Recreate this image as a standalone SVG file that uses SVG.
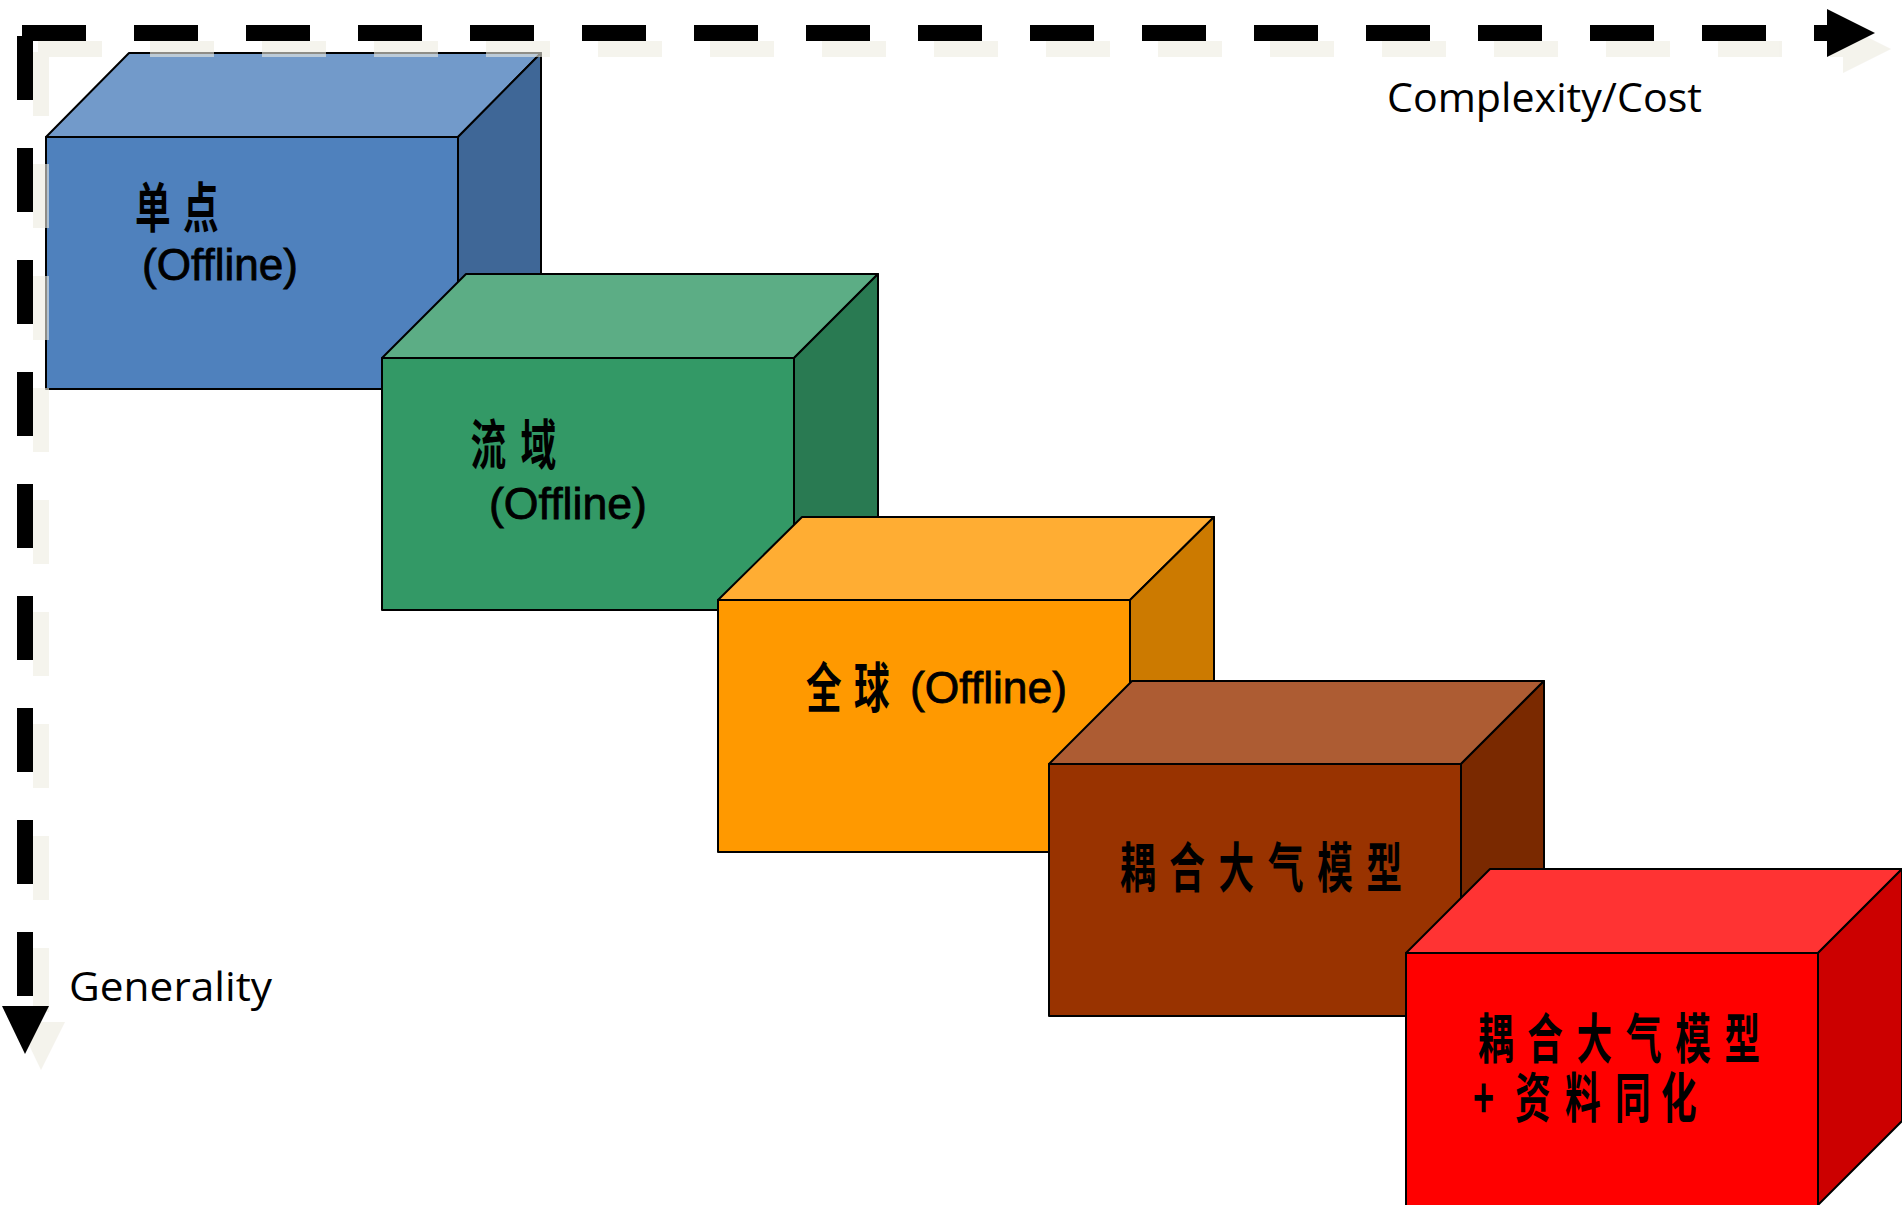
<svg xmlns="http://www.w3.org/2000/svg" width="1902" height="1205" viewBox="0 0 1902 1205">
  <style>
    .edge { stroke: #000; stroke-width: 2; stroke-linejoin: round; }
    .cjk { font-family: "Noto Sans CJK SC", "Noto Sans CJK TC", sans-serif; font-weight: 700; font-size: 54px; fill: #000; }
    .lat { font-family: "Liberation Sans", Arial, sans-serif; font-size: 45px; fill: #000; stroke: #000; stroke-width: 0.8; }
    .axis-label { font-family: "Open Sans", "Noto Sans", sans-serif; font-size: 40px; fill: #000; }
    .dash { fill: none; stroke-width: 16; stroke-dasharray: 64 48; }
  </style>
  <rect x="0" y="0" width="1902" height="1205" fill="#ffffff"/>

  <g id="box-single-point">
    <polygon class="edge" fill="#729aca" points="46,137 129,53 541,53 458,137"/>
    <polygon class="edge" fill="#3f6797" points="458,137 541,53 541,305 458,389"/>
    <rect class="edge" fill="#4f81bd" x="46" y="137" width="412" height="252"/>
    <text class="cjk" transform="translate(135,228) scale(0.66 1)" x="0 72.7">单点</text>
    <text class="lat" x="142" y="280" textLength="156" lengthAdjust="spacingAndGlyphs">(Offline)</text>
  </g>

  <g id="box-basin">
    <polygon class="edge" fill="#5cad85" points="382,358 466,274 878,274 794,358"/>
    <polygon class="edge" fill="#297a52" points="794,358 878,274 878,526 794,610"/>
    <rect class="edge" fill="#339966" x="382" y="358" width="412" height="252"/>
    <text class="cjk" transform="translate(470.5,465) scale(0.66 1)" x="0 75.8">流域</text>
    <text class="lat" x="489" y="519" textLength="158" lengthAdjust="spacingAndGlyphs">(Offline)</text>
  </g>

  <g id="box-global">
    <polygon class="edge" fill="#ffad33" points="718,600 802,517 1214,517 1130,600"/>
    <polygon class="edge" fill="#cc7a00" points="1130,600 1214,517 1214,769 1130,852"/>
    <rect class="edge" fill="#ff9900" x="718" y="600" width="412" height="252"/>
    <text class="cjk" transform="translate(806,708) scale(0.66 1)" x="0 72.7">全球</text>
    <text class="lat" x="910" y="703" textLength="157" lengthAdjust="spacingAndGlyphs">(Offline)</text>
  </g>

  <g id="box-coupled">
    <polygon class="edge" fill="#ad5c33" points="1049,764 1132,681 1544,681 1461,764"/>
    <polygon class="edge" fill="#7a2900" points="1461,764 1544,681 1544,933 1461,1016"/>
    <rect class="edge" fill="#993300" x="1049" y="764" width="412" height="252"/>
    <text class="cjk" transform="translate(1120,888) scale(0.66 1)" x="0 74.7 149.4 224.1 298.8 373.5">耦合大气模型</text>
  </g>

  <g id="box-coupled-da">
    <polygon class="edge" fill="#ff3333" points="1406,953 1490,869 1902,869 1818,953"/>
    <polygon class="edge" fill="#cc0000" points="1818,953 1902,869 1902,1121 1818,1205"/>
    <rect class="edge" fill="#ff0000" x="1406" y="953" width="412" height="254"/>
    <text class="cjk" transform="translate(1478,1059) scale(0.66 1)" x="0 74.7 149.4 224.1 298.8 373.5">耦合大气模型</text>
    <text class="cjk" transform="translate(1473,1118) scale(0.66 1)" x="0 63.6 139.4 215.2 284.8">+资料同化</text>
  </g>

  <g id="connectors">
    <g id="axes-shadow" transform="translate(16,16)" opacity="0.6">
      <path class="dash" stroke="#eeece1" d="M22,33 H1827"/>
      <polygon fill="#eeece1" points="1827,9 1875,33 1827,57"/>
      <path class="dash" stroke="#eeece1" d="M25,36 V1006"/>
      <polygon fill="#eeece1" points="2,1006 49,1006 25,1054"/>
    </g>
    <g id="axis-complexity">
      <path class="dash" stroke="#000" d="M22,33 H1827"/>
      <polygon fill="#000" points="1827,9 1875,33 1827,57"/>
    </g>
    <g id="axis-generality">
      <path class="dash" stroke="#000" d="M25,36 V1006"/>
      <polygon fill="#000" points="2,1006 49,1006 25,1054"/>
    </g>
  </g>

  <g id="labels">
    <text class="axis-label" x="1387" y="112" textLength="315" lengthAdjust="spacingAndGlyphs">Complexity/Cost</text>
    <text class="axis-label" x="69" y="1001" textLength="203" lengthAdjust="spacingAndGlyphs">Generality</text>
  </g>
</svg>
